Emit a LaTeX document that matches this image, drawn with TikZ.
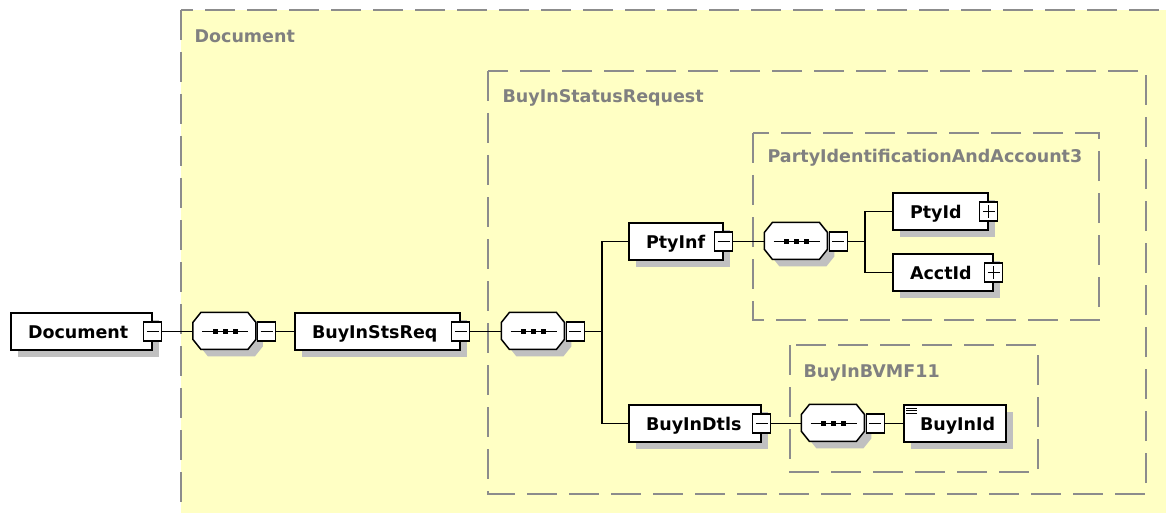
\documentclass[tikz,border=0pt]{standalone}
\usepackage{fontspec}
\setmainfont{DejaVu Sans}
\usepackage{tikz}
\usetikzlibrary{calc,shadows,positioning}

\definecolor{grpfill}{RGB}{255,255,196}
\definecolor{grpline}{RGB}{140,140,140}
\definecolor{grptext}{RGB}{128,128,128}
\definecolor{shadowgray}{RGB}{192,192,192}

\begin{document}
\begin{tikzpicture}[x=1pt, y=-1pt, line width=1.2pt,
	grp/.style={draw=grpline, fill=grpfill, line width=1.8pt, dash pattern=on 30pt off 12pt},
	grplabel/.style={anchor=base west, text=grptext, inner sep=0pt, font=\fontsize{17.5}{20}\selectfont\bfseries},
	elem/.style={draw, fill=white, rectangle, line width=1.5pt, minimum height=37pt, inner ysep=0pt, inner xsep=17pt, text height=13pt, text depth=0pt, align=left, font=\fontsize{17.5}{20}\selectfont\bfseries, drop shadow={shadow xshift=7pt, shadow yshift=-7pt, fill=shadowgray, opacity=1}},
	seq/.style={rectangle, minimum width=63pt, minimum height=37pt, inner sep=0pt},
	sqbox/.style={draw, fill=white, rectangle, minimum width=18pt, minimum height=19pt, inner sep=0pt},
	colsq/.style={sqbox, path picture={
			\draw[line width=1pt] ([xshift=3pt]path picture bounding box.west) -- ([xshift=-3pt]path picture bounding box.east);}},
	expsq/.style={sqbox, path picture={
			\draw[line width=1pt] ([xshift=3pt]path picture bounding box.west) -- ([xshift=-3pt]path picture bounding box.east);
			\draw[line width=1pt] ([yshift=-3pt]path picture bounding box.north) -- ([yshift=3pt]path picture bounding box.south);}}]

	\useasboundingbox (0,0) rectangle (1166,513);
	\clip (0,0) rectangle (1166,513);

	% groups
	\draw[grp] (181,10) rectangle (1190,540);
	\node (gdoc) [grplabel] at (194,43) {Document};
	\draw[grp] (488,71) rectangle (1146,494);
	\node (greq) [grplabel] at (502,103) {BuyInStatusRequest};
	\draw[grp] (753,133) rectangle (1099,320);
	\node (gpty) [grplabel] at (767,163) {PartyIdentificationAndAccount3};
	\draw[grp] (790,345) rectangle (1038,472);
	\node (gbvmf) [grplabel] at (803,377) {BuyInBVMF11};

	% elements
	\node (doc) [elem, text width=107pt] at (81.5,331.5) {Document};
	\node (seq1) [seq] at (225,331.5) {};
	\node (req) [elem, text width=131pt] at (377.5,331.5) {BuyInStsReq};
	\node (seq2) [seq] at (533.5,331.5) {};
	\node (ptyinf) [elem, text width=60pt] at (676,241.5) {PtyInf};
	\node (seq3) [seq] at (796.5,241.5) {};
	\node (ptyid) [elem, text width=61pt] at (940.5,211.5) {PtyId};
	\node (acctid) [elem, text width=66pt] at (943,272.5) {AcctId};
	\node (dtls) [elem, text width=98pt] at (695,423.5) {BuyInDtls};
	\node (seq4) [seq] at (833.5,423.5) {};
	\node (buyinid) [elem, inner xsep=16pt, text width=70pt] at (955,423.5) {BuyInId};
	\foreach \dy in {4,6.5,9}
		\draw[line width=0.8pt] ($(buyinid.north west)+(3,\dy)$) -- ++(11,0);

	% sequence octagons: shadow, body, dots
	\foreach \s in {seq1,seq2,seq3,seq4} {
		\fill[shadowgray] ($(\s.north west)+(15,7)$) -- ++(47,0) -- ++(8,10) -- ++(0,17) -- ++(-8,10) -- ++(-47,0) -- ++(-8,-10) -- ++(0,-17) -- cycle;
		\draw[fill=white, line width=1.5pt] ($(\s.north west)+(8,0)$) -- ++(47,0) -- ++(8,10) -- ++(0,17) -- ++(-8,10) -- ++(-47,0) -- ++(-8,-10) -- ++(0,-17) -- cycle;
		\draw ($(\s.center)+(-23,0)$) -- ($(\s.center)+(23,0)$);
		\foreach \dx in {-10,0,10}
			\fill ($(\s.center)+(\dx-2.5,-2.5)$) rectangle ++(5,5);
	}

	% collapse / expand squares
	\node (docsq) [colsq] at (doc.east) {};
	\node (seq1sq) [colsq, anchor=west] at (seq1.east) {};
	\node (reqsq) [colsq] at (req.east) {};
	\node (seq2sq) [colsq, anchor=west] at (seq2.east) {};
	\node (ptyinfsq) [colsq] at (ptyinf.east) {};
	\node (seq3sq) [colsq, anchor=west] at (seq3.east) {};
	\node (ptyidsq) [expsq] at (ptyid.east) {};
	\node (acctidsq) [expsq] at (acctid.east) {};
	\node (dtlssq) [colsq] at (dtls.east) {};
	\node (seq4sq) [colsq, anchor=west] at (seq4.east) {};

	% connectors
	\coordinate (br2) at (602,331.5);
	\coordinate (br3) at (865,241.5);
	\draw (docsq) -- (seq1);
	\draw (seq1sq) -- (req);
	\draw (reqsq) -- (seq2);
	\draw (seq2sq) -- (br2) |- (ptyinf.west);
	\draw (br2) |- (dtls.west);
	\draw (ptyinfsq) -- (seq3);
	\draw (seq3sq) -- (br3) |- (ptyid.west);
	\draw (br3) |- (acctid.west);
	\draw (dtlssq) -- (seq4);
	\draw (seq4sq) -- (buyinid);
\end{tikzpicture}
\end{document}
